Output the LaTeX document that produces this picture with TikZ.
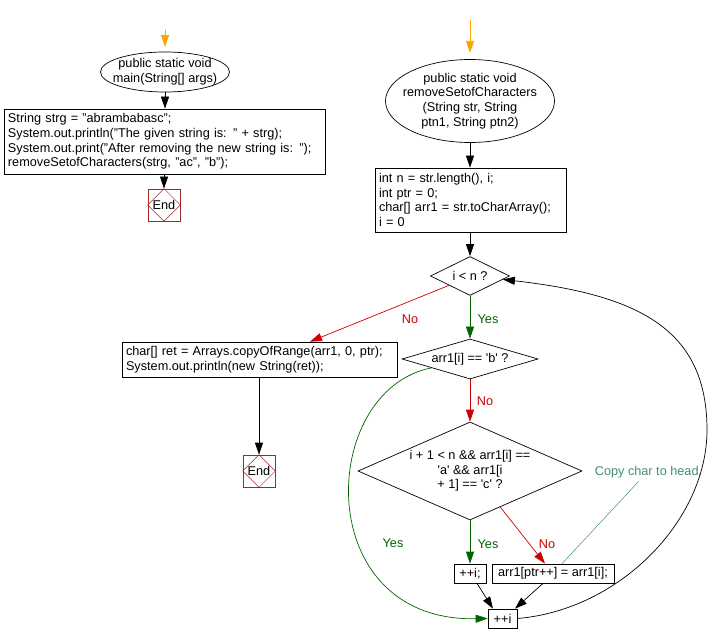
\documentclass[tikz,border=0pt]{standalone}
\usepackage{fontspec}
\setmainfont{Liberation Sans}
\usetikzlibrary{arrows.meta,shapes.geometric}
\definecolor{orangec}{RGB}{255,165,0}
\definecolor{redc}{RGB}{204,0,0}
\definecolor{greenc}{RGB}{0,100,0}
\definecolor{tealc}{RGB}{70,140,120}
\definecolor{endc}{RGB}{160,40,40}
\begin{document}
\begin{tikzpicture}[x=1pt,y=-1pt,line width=0.7pt,
  font=\fontsize{12.7}{14.6}\selectfont,
  arr/.style={-{Triangle[length=12pt,width=8pt]}},
  codebox/.style={draw, rectangle, inner sep=4pt, align=left},
  smallbox/.style={draw, rectangle, inner sep=0pt, minimum height=19pt},
  oval/.style={draw, ellipse, inner sep=0pt},
  decision/.style={draw, diamond, inner sep=0pt},
  endbox/.style={draw=endc, rectangle, minimum size=32pt, inner sep=0pt},
  lblred/.style={text=redc},
  lblgreen/.style={text=greenc}]
\useasboundingbox (0,0) rectangle (723,644);

% left flow
\coordinate (s1) at (165,30);
\coordinate (t1) at (165,47);
\node[oval, minimum width=129pt, minimum height=40pt] (e1) at (165,72) {};
\node[align=center] (e1t) at (e1) {public static void\\main(String[] args)};
\node[codebox, text width=313pt, minimum height=65pt] (b1) at (164.5,141.5)
 {String strg = "abrambabasc";\\
  System.out.println("The given string is: " + strg);\\
  System.out.print("After removing the new string is: ");\\
  removeSetofCharacters(strg, "ac", "b");};
\node[endbox] (end1) at (164,205) {End};
\draw[endc, line width=0.5pt] (end1.north) -- (end1.east) -- (end1.south) -- (end1.west) -- cycle;

\draw[arr, orangec] (s1) -- (t1);
\draw[arr] (e1.south) -- (e1.south |- b1.north);
\draw[arr] (end1.north |- b1.south) -- (end1.north);

% right flow
\coordinate (s2) at (470,20);
\coordinate (t2) at (470,53);
\node[oval, minimum width=169pt, minimum height=83pt] (e2) at (470,101) {};
\node[align=center] (e2t) at (e2) {public static void\\removeSetofCharacters\\(String str, String\\ptn1, String ptn2)};
\node[codebox, text width=183pt, minimum height=64pt] (b2) at (470.5,200)
 {int n = str.length(), i;\\
  int ptr = 0;\\
  char[] arr1 = str.toCharArray();\\
  i = 0};
\node[decision, minimum width=79pt, minimum height=39pt] (d1) at (470,276) {};
\node (d1t) at (d1) {i < n ?};
\node[codebox, text width=267pt, minimum height=35pt] (b3) at (259.5,359.5)
 {char[] ret = Arrays.copyOfRange(arr1, 0, ptr);\\
  System.out.println(new String(ret));};
\node[endbox] (end2) at (259,471) {End};
\draw[endc, line width=0.5pt] (end2.north) -- (end2.east) -- (end2.south) -- (end2.west) -- cycle;
\node[decision, minimum width=136pt, minimum height=40pt] (d2) at (470,359) {};
\node (d2t) at (d2) {arr1[i] == \textquotesingle b\textquotesingle\ ?};
\node[decision, minimum width=224pt, minimum height=98pt] (d3) at (470,471) {};
\node[align=center] (d3t) at (d3) {i + 1 < n \&\& arr1[i] ==\\\textquotesingle a\textquotesingle\ \&\& arr1[i\\+ 1] == \textquotesingle c\textquotesingle\ ?};
\node[smallbox, minimum width=32pt] (pi) at (470,573.5) {++i;};
\node[smallbox, minimum width=122pt] (ab) at (553,573.5) {arr1[ptr++] = arr1[i];};
\node[smallbox, minimum width=29pt] (pp) at (502.5,618.5) {++i};
\node[text=tealc] (note) at (648.5,472) {Copy char to head.};

\draw[arr, orangec] (s2) -- (t2);
\draw[arr] (e2.south) -- (e2.south |- b2.north);
\draw[arr] (d1.north |- b2.south) -- (d1.north);
\draw[arr, redc] (d1.204) -- ([xshift=50.5pt]b3.north);
\draw[arr] (end2.north |- b3.south) -- (end2.north);
\draw[arr, greenc] (d1.south) -- (d2.north);
\draw[arr, redc] (d2.south) -- (d3.north);
\draw[arr, greenc] (d3.south) -- (pi.north);
\draw[arr, redc] (d3.-50) -- ([xshift=-8pt]ab.north);
\draw[arr, greenc] (d2.193) .. controls (318,390) and (310,622) .. (pp.west);
\draw[arr] ([xshift=7pt]pi.south) -- ([xshift=-9.5pt]pp.north);
\draw[arr] ([xshift=-10pt]ab.south) -- ([xshift=12.5pt]pp.north);
\draw[arr] (pp.east) .. controls (620,610) and (707,520) .. (707,430)
  .. controls (707,330) and (640,295) .. (d1.-6);
\draw[tealc, line width=0.5pt] ([xshift=-10pt]note.south) -- ([xshift=9pt]ab.north);

% labels
\node[lblred] (l1) at (410,319) {No};
\node[lblgreen] (l2) at (488,319) {Yes};
\node[lblred] (l3) at (485,401) {No};
\node[lblgreen] (l4) at (488,544) {Yes};
\node[lblred] (l5) at (547,544) {No};
\node[lblgreen] (l6) at (393,543) {Yes};
\end{tikzpicture}
\end{document}
